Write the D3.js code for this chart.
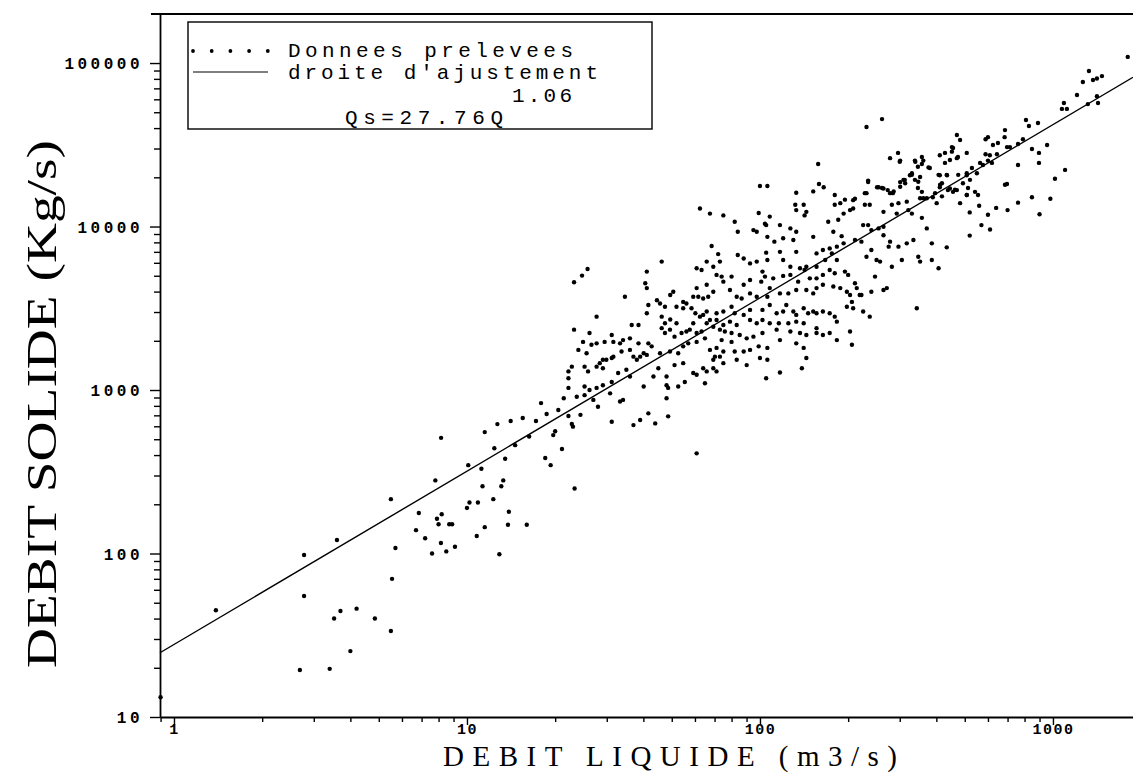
<!DOCTYPE html>
<html>
<head>
<meta charset="utf-8">
<script src="https://cdn.jsdelivr.net/npm/d3@7/dist/d3.min.js"></script>
<style>
  body { margin: 0; background: #fff; }
  svg { display: block; }
</style>
</head>
<body>
<svg id="chart" width="1133" height="774"></svg>
<script>
// axes
const xDomain = [0.896, 1876];
const yDomain = [10, 199500];
const xTickLabels = [1, 10, 100, 1000];
const yTickLabels = [10, 100, 1000, 10000, 100000];

// droite d'ajustement Qs = a.Q^b
const coefA = 27.76;
const coefB = 1.06;
const legendTexts = ['Donnees prelevees', "droite d'ajustement", '1.06', 'Qs=27.76Q'];

// donnees prelevees [Q (m3/s), Qs (Kg/s)]
const pointsBas = [
  [0.9,13.2],[1.39,45],[2.78,98],[2.78,55],[2.69,19.4],[3.6,121],[3.52,40],[3.7,44.5],
  [3.4,19.7],[4.0,25.3],[4.2,46],[4.85,40],[5.5,215],[5.55,70],[5.5,33.6],[5.7,108],
  [6.7,139],[6.85,177],[7.2,124],[7.6,100],[7.9,163],[8.0,151],[8.15,116],[8.2,174],
  [8.5,103],[8.7,151],[8.9,151],[9.1,110],[7.8,280],[10,190],[10.2,205],[10.9,205],
  [10.8,128],[11.5,145],[11.3,258],[12.3,215],[12.9,99],[13.1,258],[13.3,280],[13.8,150],
  [13.9,180],[16.0,150]
];

// zone Q 8-25, Qs 300-900
const pointsMilieu = [
  [8.16,510],[10.1,347],[11.5,553],[12.7,619],[14.1,646],[15.5,674],[17.2,646],[18.7,713],
  [20.5,755],[22.2,694],[17.9,832],[18.5,384],[19.3,347],[21.1,436],[11.2,330],[12.4,440],
  [14.6,460],[16.3,520],[13.5,380],[20.0,560],[22.8,620]
];

const pointsCentre = [
  [158,24100],[300,24900],[339,24900],[376,23000],[357,24100],[475,20700],[508,21200],
  [407,20700],[434,20700],[330,20700],[309,19300],[347,18800],[301,17500],[412,18000],
  [445,17100],[463,16800],[100,17700],[106,17700],[159,18200],[165,17400],[133,16100],
  [152,16400],[234,19100],[254,17400],[264,17100],[286,16400],[313,18400],[278,16000],
  [228,16000],
  [180,15600],[195,14600],[188,13900],[211,14800],[228,13600],[237,13600],[132,13600],
  [141,13600],[144,12300],[142,11700],[133,12600],[180,13600],[282,13600],[297,13900],
  [317,14200],[352,14900],[371,14900],[396,16000],[418,15300],[401,13900],[482,13900],
  [508,15600],[321,12600],[330,12000],[293,12000],[264,12300],[203,12600],[208,12900],
  [193,12000],[171,10700],[185,11000],[62.4,12900],[67.5,12000],[75,11700],[82,10700],
  [99,12100],[108,11500],[104,10400],[95,9510],[97.5,9290],[105,10200],[117,10200],
  [127,9740],[133,9290],[84,9290],[357,11300],[371,9740],[386,7890],[434,7460],
  [225,10200],[234,10200],[240,9510],[254,9740],[264,9970],
  [106,8650],[112,8080],[120,8480],[130,8270],[152,8650],[178,9290],[190,8730],[193,7890],
  [183,7530],[173,7350],[164,7180],[156,6850],[176,6850],[222,8080],[211,8270],[240,7180],
  [264,8850],[278,8080],[275,7530],[297,7530],[317,7890],[334,8270],[68.4,7600],[72,6780],
  [84,6700],[88,6380],[92.5,5950],[97.5,6100],[105,6920],[117,7000],[133,7000],[106,6240],
  [120,6240],[127,5680],[137,5560],[144,5680],[156,5680],[167,6240],[183,6240],[231,6540],
  [250,6240],[257,6100],[282,5680],[305,6240],[347,6540],[352,6100],[386,6240],[407,5560],
  [46.2,6100],[65.8,6100],[69.3,5680],[73,6100],[60.8,5560],[63.2,5420],
  [23.2,4560],[24.7,5010],[25.8,5500],
  [41.1,5300],[40.6,4500],[41.1,4200],[71.1,5060],[74,4940],[80,4940],[75,4600],[88,4400],
  [92.5,4710],[102,5300],[104,4940],[101,4600],[111,4820],[120,4990],[127,5060],[135,4600],
  [142,5420],[148,4820],[156,4820],[164,5060],[173,5420],[180,5180],[195,5300],[200,5060],
  [211,4500],[214,4200],[222,3810],[247,4940],[240,3990],[264,4090],[271,4200],[343,3160],
  [50.6,3990],[49.4,3810],[54.7,3460],[60.8,4200],[65.8,4400],[69.3,3990],[59.2,3720],
  [61.6,3720],[64,3630],[66.6,3720],[79,4090],[83.3,3720],[86.6,3630],[92.5,3900],
  [97.5,3720],[108,4200],[117,3900],[125,3900],[133,4090],[144,4090],[152,3900],[156,4200],
  [164,4400],[178,4300],[188,4200],[198,3990],[203,3810],[206,3460],[219,3810],
  [34.6,3720],[44.5,3540],[45.6,3380],[47.4,3230],[51.9,3230],[54.7,3160],[56.1,3380],
  [58.4,3160],[60.2,2950],[62.4,2810],[64,2880],[65.8,3020],[71.1,2950],[75,3020],[80,3230],
  [82,2950],[88,2880],[92.5,3090],[102,3090],[108,3310],[106,3720],[114,2950],[120,3020],
  [123,3310],[130,3020],[133,2880],[141,3160],[146,2950],[152,3020],[156,2950],[164,3020],
  [173,2950],[180,2810],[183,2620],[198,3230],[208,3160],[225,3020],[237,2810],[41.6,3310],
  [41.1,2950],[27.7,2810],[36.5,2500],[38.5,2500],[46.2,2810],[47.4,2560],[49.4,2700],
  [51.9,2560],[59.2,2560],[65.8,2560],[67.5,2680],[71.1,2680],[75,2500],[79,2620],
  [83.3,2500],[92.5,2680],[97.5,2560],[102,2680],[108,2560],[116,2560],[125,2560],
  [133,2620],[141,2560],[156,2390],[164,2170],
  [23.2,2340],[26.2,2230],[24.9,1970],[26.6,1890],[27.7,1930],[29.5,1970],[31.2,2170],
  [31.6,1970],[33.3,1930],[34.1,2020],[36.0,2070],[38.5,1930],[41.6,1930],[46.2,2390],
  [47.4,2230],[49.3,2340],[51.1,2120],[54.0,2230],[56.1,2280],[57.6,2340],[60.8,2230],
  [63.2,2280],[64.9,2070],[69.3,2440],[73,2340],[75.9,2280],[80,2230],[74,2020],[80,1970],
  [85.3,2170],[90.1,2070],[95,2120],[102,2230],[114,2340],[127,2280],[137,2230],[144,2170],
  [156,2230],[173,2230],[183,2020],[203,2280],[206,1890],[133,1930],[141,1810],[117,2020],
  [106,1810],[99,1850],[92.5,1760],[88,1720],[82,1720],[75,1720],[71.1,1810],[67.5,1760],
  [60.8,1970],[56.9,1930],[54.7,1850],[52.6,1680],[49.3,1720],[45.6,1680],[42.7,1850],
  [41.1,1640],[39.0,1600],[37.0,1600],[36.0,1760],[33.7,1720],[31.6,1600],[29.9,1530],
  [29.1,1530],[28.4,1460],[24.0,1760],[25.6,1680],
  [22.2,1300],[22.8,1390],[22.2,1180],[25.2,1390],[25.9,1300],[27.7,1390],[29.1,1360],
  [31.2,1570],[32.8,1270],[35.0,1330],[38.0,1530],[40.1,1680],[43.3,1210],[45.0,1360],
  [48.0,1210],[51.1,1420],[54.7,1460],[59.2,1270],[60.8,1240],[64,1360],[65.8,1300],
  [69.3,1530],[70.2,1600],[73,1600],[69.3,1360],[71.1,1300],[75,1460],[83.3,1530],
  [90.1,1420],[100,1570],[106,1530],[117,1280],[105,1180],[139,1360],[144,1570],
  [22.2,1030],[25.2,1050],[26.2,1000],[27.7,1030],[29.1,1070],[30.8,954],[36.0,1210],
  [40.1,1050],[48.0,1070],[48.6,1030],[52.6,1050],[55.4,1120],[64.9,1100],[21.4,890],
  [23.7,910],[25.2,930],[27.0,870],[28.0,790],[31.2,1120],[33.3,850],[34.1,870],[48.0,890],
  [24.4,705],[23.0,597],[31.2,640],[37.0,610],[39.0,655],[41.6,720],[43.9,625],[48.6,690],
  [19.7,530],[60.8,410],[23.3,250]
];

// zone Q 500-1800, Qs 3000-15000
const pointsDroite = [
  [520,12200],[560,13400],[600,11800],[640,13000],[570,10200],[520,8800],[610,9600],
  [700,12600],[760,14000],[980,14800],[900,11900]
];

const pointsHaut = [
  [1800,109000],[1327,89300],[1265,76600],[1370,78700],[1413,80400],[1470,83200],
  [1208,63700],[1413,62700],[1425,56900],[1316,56100],[1090,56900],[1073,52400],
  [1116,52400],[809,44800],[828,41200],[889,43000],[955,31500],[848,29800],[896,28200],
  [896,24500],[760,23800],[1016,19600],[1100,22200],[848,15100],[686,38900],[684,35200],
  [600,35200],[589,34200],[624,31500],[649,32400],[790,34200],[760,32000],[697,30600],
  [713,30600],[589,27700],[609,27300],[644,27700],[564,24500],[577,23800],[600,25300],
  [619,24500],[550,21200],[529,22800],[508,20600],[521,19300],[493,18400],[697,18200],
  [686,18000],[513,17200],[542,16300],[508,15600],[470,36300],[482,33800],[452,30600],
  [456,30200],[474,26600],[470,26200],[508,28200],[445,25500],[428,24500],[411,27300],
  [428,28200],[452,28700],[411,20600],[435,20600],[418,18400],[380,22800],[357,26600],
  [361,25300],[338,25300],[346,23200],[301,18700],[312,19300],[325,20600],[330,21200],
  [296,28200],[301,25300],[278,26200],[338,19300],[352,20100],[346,17200],[357,16300],
  [251,17400],[261,17200],[273,16700],[234,18700],[231,16000],[231,40600],[261,45400],
  [284,16000],[411,17400],[438,16700],[456,16300],[470,16700],[389,15100],[361,14900],
  [555,15600],[208,14500]
];

const svg = d3.select('#chart');
const margin = {left: 160, top: 14, bottom: 717, right: 1133};

const x = d3.scaleLog().domain(xDomain).range([margin.left, margin.right]);
const y = d3.scaleLog().domain(yDomain).range([margin.bottom, margin.top]);

const isMajor = d => Math.abs(Math.log10(d) - Math.round(Math.log10(d))) < 1e-9;

// axe Y
const yAxis = svg.append('g')
  .attr('transform', `translate(${margin.left},0)`)
  .call(d3.axisLeft(y)
    .tickValues(y.ticks().filter(d => d >= yDomain[0] && d <= yDomain[1]))
    .tickSize(9).tickSizeOuter(0)
    .tickFormat(d => yTickLabels.includes(d) ? d : ''));
yAxis.selectAll('.tick line').attr('x2', d => isMajor(d) ? -10 : -6).attr('stroke', '#000').attr('stroke-width', 1.4);
yAxis.selectAll('.tick text')
  .attr('x', -17).attr('dy', '0.36em')
  .style('font-family', '"Liberation Mono", monospace')
  .style('font-weight', 'bold').style('font-size', '16px')
  .style('letter-spacing', '3.5px');

// axe X
const xAxis = svg.append('g')
  .attr('transform', `translate(0,${margin.bottom})`)
  .call(d3.axisBottom(x)
    .tickValues(x.ticks().filter(d => d >= xDomain[0] && d <= xDomain[1]))
    .tickSize(7).tickSizeOuter(0)
    .tickFormat(d => xTickLabels.includes(d) ? d : ''));
xAxis.selectAll('.tick line').attr('y2', d => isMajor(d) ? 8 : 5).attr('stroke', '#000').attr('stroke-width', 1.4);
xAxis.selectAll('.tick text')
  .attr('y', 6).attr('dy', '0.72em')
  .style('font-family', '"Liberation Mono", monospace')
  .style('font-weight', 'bold').style('font-size', '15px')
  .style('letter-spacing', '1.5px');

svg.selectAll('.domain').attr('stroke', '#000').attr('stroke-width', 1.8);

// cadre du haut
svg.append('line')
  .attr('x1', margin.left - 9).attr('x2', margin.right)
  .attr('y1', margin.top).attr('y2', margin.top)
  .attr('stroke', '#000').attr('stroke-width', 1.8);

// droite d'ajustement
const fitLine = xDomain.map(q => [q, coefA * Math.pow(q, coefB)]);
svg.append('path')
  .datum(fitLine)
  .attr('fill', 'none')
  .attr('stroke', '#000')
  .attr('stroke-width', 1.4)
  .attr('d', d3.line().x(d => x(d[0])).y(d => y(d[1])));

// nuage de points
const allPoints = pointsBas.concat(pointsMilieu, pointsCentre, pointsDroite, pointsHaut);
svg.append('g')
  .selectAll('circle')
  .data(allPoints)
  .enter()
  .append('circle')
  .attr('cx', d => x(d[0]))
  .attr('cy', d => y(d[1]))
  .attr('r', 2.2)
  .attr('fill', '#000');

// titres des axes
svg.append('text')
  .attr('x', 443).attr('y', 766)
  .attr('textLength', 454).attr('lengthAdjust', 'spacing')
  .style('font-family', '"Liberation Serif", serif')
  .style('font-size', '29px')
  .text('DEBIT LIQUIDE (m3/s)');

svg.append('text')
  .attr('transform', 'translate(56,668) rotate(-90)')
  .attr('textLength', 528).attr('lengthAdjust', 'spacingAndGlyphs')
  .style('font-family', '"Liberation Serif", serif')
  .style('font-size', '42px')
  .text('DEBIT SOLIDE (Kg/s)');

// legende
const legend = svg.append('g');
legend.append('rect')
  .attr('x', 188).attr('y', 22).attr('width', 464).attr('height', 107)
  .attr('fill', '#fff').attr('stroke', '#000').attr('stroke-width', 1.4);
legend.selectAll('circle')
  .data(d3.range(5))
  .enter()
  .append('circle')
  .attr('cx', i => 193 + i * 18.7).attr('cy', 51)
  .attr('r', 1.9).attr('fill', '#000');
legend.append('line')
  .attr('x1', 193).attr('x2', 268).attr('y1', 72).attr('y2', 72)
  .attr('stroke', '#000').attr('stroke-width', 1.2);

const legendFont = t => t
  .style('font-family', '"Liberation Mono", monospace')
  .style('font-size', '21px');
legendFont(legend.append('text').attr('x', 288).attr('y', 57)
  .attr('textLength', 285).text(legendTexts[0]));
legendFont(legend.append('text').attr('x', 288).attr('y', 79)
  .attr('textLength', 310).text(legendTexts[1]));
legendFont(legend.append('text').attr('x', 512).attr('y', 102)
  .attr('textLength', 60).text(legendTexts[2]));
legendFont(legend.append('text').attr('x', 345).attr('y', 124)
  .attr('textLength', 158).text(legendTexts[3]));
</script>
</body>
</html>
